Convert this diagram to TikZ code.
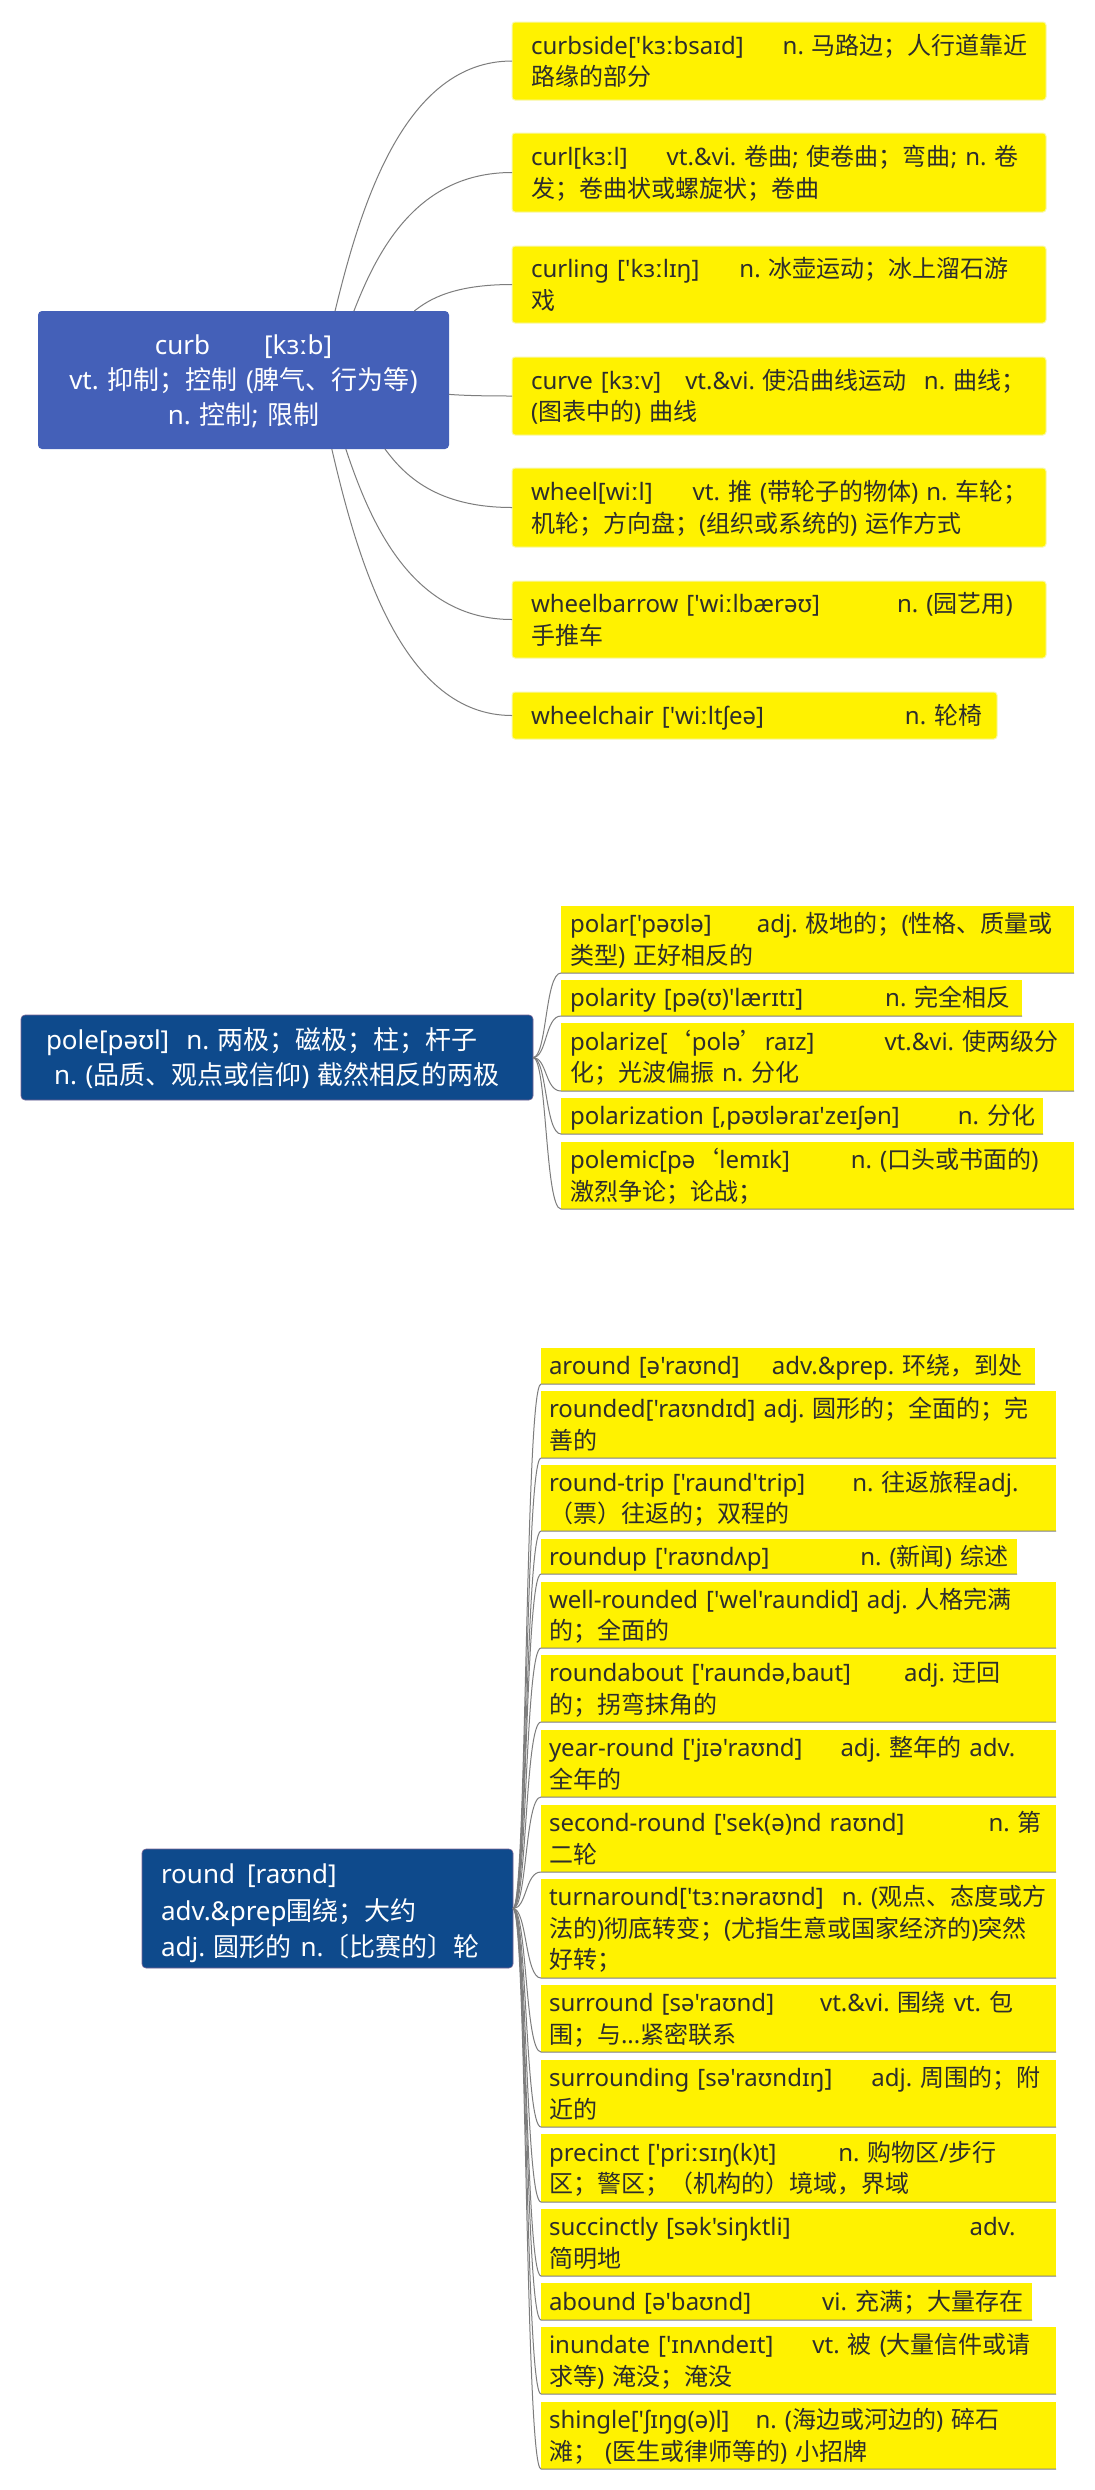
\documentclass[tikz,border=0pt]{standalone}
\usepackage{fontspec}
\setmainfont{Noto Sans}
\newfontfamily\latf{Noto Sans}[Ligatures=TeXOff]
\newfontfamily\cjkf{Noto Sans CJK SC}
\usetikzlibrary{calc}
\frenchspacing

% automatic switch to the CJK font for CJK characters
\XeTeXinterchartokenstate=1
\newcount\cjkcnt
\newcommand\setcjkrange[2]{\cjkcnt=#1\relax
  \loop\XeTeXcharclass\cjkcnt=11\relax\advance\cjkcnt by 1\relax\ifnum\cjkcnt<#2\relax\repeat}
\setcjkrange{"4E00}{"A000}
\setcjkrange{"3000}{"3040}
\setcjkrange{"FF00}{"FFF0}
\setcjkrange{"2018}{"201A}
\XeTeXinterchartoks 0 11 = {\cjkf}
\XeTeXinterchartoks 4095 11 = {\cjkf}
\XeTeXinterchartoks 11 0 = {\latf}
\XeTeXinterchartoks 11 4095 = {\latf}

\definecolor{cA}{RGB}{68,96,184}
\definecolor{cB}{RGB}{14,74,140}
\definecolor{cBedge}{RGB}{120,100,150}
\definecolor{linegray}{RGB}{125,125,125}
\definecolor{txt}{RGB}{45,45,45}
\definecolor{ybord}{RGB}{248,248,170}

\newcommand\leaffont{\fontsize{24}{31.5}\selectfont\latf\frenchspacing}
\newcommand\rootfont{\fontsize{26}{35}\selectfont\latf\frenchspacing}
\newcommand\rootfontb{\fontsize{26}{36.5}\selectfont\latf\frenchspacing}
\newcommand\lst{\rule[-7pt]{0pt}{31.5pt}}
\newcommand\rst{\rule[-8pt]{0pt}{35pt}}
\newcommand\rstb{\rule[-8.5pt]{0pt}{36.5pt}}
\newcommand\gp[1]{\hspace{#1pt}}

\newcommand\mcurve[2]{\draw[conn] let \p1=(#1), \p2=(#2.west) in
  (\p1) .. controls ({\x1+0.15*(\x2-\x1)},{\y1+0.44*(\y2-\y1)}) and ({\x1+0.4*(\x2-\x1)},\y2) .. (\p2);}
\newcommand\tcurve[2]{\draw[conn] let \p1=(#1.east), \p2=(#2.south west) in
  (\p1) .. controls ({\x1+14pt},\y1) and ({\x1+12pt},\y2) .. (\p2) -- (#2.south east);}

\begin{document}
\begin{tikzpicture}[x=1pt,y=-1pt,
  conn/.style={draw=linegray,line width=1pt},
  boxA/.style={fill=yellow,draw=ybord,line width=1pt,rounded corners=3pt,anchor=north west,inner sep=0pt,outer sep=0pt},
  boxB/.style={fill=yellow,anchor=north west,inner sep=0pt,outer sep=0pt},
  ltxt/.style={anchor=west,inner sep=0pt,outer sep=0pt,text width=600pt,align=left,font=\leaffont,text=txt,
    execute at begin node=\lst,execute at end node=\lst},
  rootA/.style={fill=cA,rounded corners=4pt,anchor=north west,inner sep=0pt,outer sep=0pt,align=center,
    font=\rootfont,text=white,execute at begin node=\rst,execute at end node=\rst},
  rootB/.style={rootA,fill=cB,draw=cBedge,line width=0.6pt},
  rtxt/.style={anchor=west,inner sep=0pt,outer sep=0pt,text width=500pt,align=left,font=\rootfontb,text=white,
    execute at begin node=\rstb,execute at end node=\rstb}
]
\fill[white] (0,0) rectangle (1095,2490);
\useasboundingbox (0,0) rectangle (1095,2490);

% ---------------- curb ----------------
\node[rootA,text width=411pt,minimum height=138pt] (curb) at (38,311)
  {curb\gp{54}[kɜːb]\\vt. 抑制；控制 (脾气、行为等)\\n. 控制; 限制};

\node[boxA,minimum width=534pt,minimum height=78pt] (cs) at (512,22) {};
\node[ltxt] (cst) at ([xshift=19pt]cs.west) {curbside['kɜːbsaɪd]\gp{39}n. 马路边；人行道靠近\\路缘的部分};
\node[boxA,minimum width=534pt,minimum height=79pt] (cl) at (512,133) {};
\node[ltxt] (clt) at ([xshift=19pt]cl.west) {curl[kɜːl]\gp{39}vt.\&vi. 卷曲; 使卷曲；弯曲; n. 卷\\发；卷曲状或螺旋状；卷曲};
\node[boxA,minimum width=534pt,minimum height=77pt] (cg) at (512,246) {};
\node[ltxt] (cgt) at ([xshift=19pt]cg.west) {curling ['kɜːlɪŋ]\gp{40}n. 冰壶运动；冰上溜石游\\戏};
\node[boxA,minimum width=534pt,minimum height=78pt] (cv) at (512,357) {};
\node[ltxt] (cvt) at ([xshift=19pt]cv.west) {curve [kɜːv]\gp{24}vt.\&vi. 使沿曲线运动\gp{17}n. 曲线；\\(图表中的) 曲线};
\node[boxA,minimum width=534pt,minimum height=79pt] (wh) at (512,468) {};
\node[ltxt] (wht) at ([xshift=19pt]wh.west) {wheel[wiːl]\gp{40}vt. 推 (带轮子的物体) n. 车轮；\\机轮；方向盘；(组织或系统的) 运作方式};
\node[boxA,minimum width=534pt,minimum height=77pt] (wb) at (512,581) {};
\node[ltxt] (wbt) at ([xshift=19pt]wb.west) {wheelbarrow ['wiːlbærəʊ]\gp{77}n. (园艺用)\\手推车};
\node[boxA,minimum width=485pt,minimum height=47pt] (wc) at (512,692) {};
\node[ltxt] (wct) at ([xshift=19pt]wc.west) {wheelchair ['wiːltʃeə]\gp{141}n. 轮椅};

\mcurve{curb.37}{cs}
\mcurve{curb.32}{cl}
\mcurve{curb.22}{cg}
\mcurve{curb.-4}{cv}
\mcurve{curb.-26}{wh}
\mcurve{curb.-34}{wb}
\mcurve{curb.-38}{wc}

% ---------------- pole ----------------
\node[rootB,text width=512pt,minimum height=85pt] (pole) at (21,1015)
  {pole[pəʊl]\gp{17}n. 两极；磁极；柱；杆子\rule{30pt}{0pt}\\n. (品质、观点或信仰) 截然相反的两极};

\node[boxB,minimum width=513pt,minimum height=67pt] (p1) at (561,906) {};
\node[ltxt] (p1t) at ([xshift=9pt]p1.west) {polar['pəʊlə]\gp{45}adj. 极地的；(性格、质量或\\类型) 正好相反的};
\node[boxB,minimum width=461pt,minimum height=36pt] (p2) at (561,980) {};
\node[ltxt] (p2t) at ([xshift=9pt]p2.west) {polarity [pə(ʊ)'lærɪtɪ]\gp{82}n. 完全相反};
\node[boxB,minimum width=513pt,minimum height=68pt] (p3) at (561,1023) {};
\node[ltxt] (p3t) at ([xshift=9pt]p3.west) {polarize[‘polə’raɪz]\gp{70}vt.\&vi. 使两级分\\化；光波偏振 n. 分化};
\node[boxB,minimum width=482pt,minimum height=36pt] (p4) at (561,1098) {};
\node[ltxt] (p4t) at ([xshift=9pt]p4.west) {polarization [,pəʊləraɪ'zeɪʃən]\gp{58}n. 分化};
\node[boxB,minimum width=513pt,minimum height=67pt] (p5) at (561,1142) {};
\node[ltxt] (p5t) at ([xshift=9pt]p5.west) {polemic[pə‘lemɪk]\gp{61}n. (口头或书面的)\\激烈争论；论战；};

\tcurve{pole}{p1}
\tcurve{pole}{p2}
\tcurve{pole}{p3}
\tcurve{pole}{p4}
\tcurve{pole}{p5}

% ---------------- round ----------------
\node[rootB,minimum width=371pt,minimum height=119pt] (round) at (142,1849) {};
\node[rtxt] (roundt) at ([xshift=19pt,yshift=-2pt]round.west) {round\gp{12}[raʊnd]\\adv.\&prep围绕；大约\\adj. 圆形的 n.〔比赛的〕轮};

\node[boxB,minimum width=494pt,minimum height=36pt] (r1) at (541,1348) {};
\node[ltxt] (r1t) at ([xshift=8pt]r1.west) {around [ə'raʊnd]\gp{32}adv.\&prep. 环绕，到处};
\node[boxB,minimum width=515pt,minimum height=67pt] (r2) at (541,1391) {};
\node[ltxt] (r2t) at ([xshift=8pt]r2.west) {rounded['raʊndɪd] adj. 圆形的；全面的；完\\善的};
\node[boxB,minimum width=515pt,minimum height=66pt] (r3) at (541,1465) {};
\node[ltxt] (r3t) at ([xshift=8pt]r3.west) {round-trip ['raund'trip]\gp{47}n. 往返旅程adj.\\（票）往返的；双程的};
\node[boxB,minimum width=476pt,minimum height=35pt] (r4) at (541,1539) {};
\node[ltxt] (r4t) at ([xshift=8pt]r4.west) {roundup ['raʊndʌp]\gp{91}n. (新闻) 综述};
\node[boxB,minimum width=515pt,minimum height=66pt] (r5) at (541,1582) {};
\node[ltxt] (r5t) at ([xshift=8pt]r5.west) {well-rounded ['wel'raundid] adj. 人格完满\\的；全面的};
\node[boxB,minimum width=515pt,minimum height=67pt] (r6) at (541,1655) {};
\node[ltxt] (r6t) at ([xshift=8pt]r6.west) {roundabout ['raundə,baut]\gp{53}adj. 迂回\\的；拐弯抹角的};
\node[boxB,minimum width=515pt,minimum height=67pt] (r7) at (541,1730) {};
\node[ltxt] (r7t) at ([xshift=8pt]r7.west) {year-round ['jɪə'raʊnd]\gp{38}adj. 整年的 adv.\\全年的};
\node[boxB,minimum width=515pt,minimum height=67pt] (r8) at (541,1805) {};
\node[ltxt] (r8t) at ([xshift=8pt]r8.west) {second-round ['sek(ə)nd raʊnd]\gp{84}n. 第\\二轮};
\node[boxB,minimum width=515pt,minimum height=99pt] (r9) at (541,1879) {};
\node[ltxt] (r9t) at ([xshift=8pt]r9.west) {turnaround['tɜːnəraʊnd]\gp{18}n. (观点、态度或方\\法的)彻底转变；(尤指生意或国家经济的)突然\\好转；};
\node[boxB,minimum width=515pt,minimum height=67pt] (r10) at (541,1985) {};
\node[ltxt] (r10t) at ([xshift=8pt]r10.west) {surround [sə'raʊnd]\gp{46}vt.\&vi. 围绕 vt. 包\\围；与...紧密联系};
\node[boxB,minimum width=515pt,minimum height=67pt] (r11) at (541,2060) {};
\node[ltxt] (r11t) at ([xshift=8pt]r11.west) {surrounding [sə'raʊndɪŋ]\gp{39}adj. 周围的；附\\近的};
\node[boxB,minimum width=515pt,minimum height=68pt] (r12) at (541,2134) {};
\node[ltxt] (r12t) at ([xshift=8pt]r12.west) {precinct ['priːsɪŋ(k)t]\gp{62}n. 购物区/步行\\区；警区；（机构的）境域，界域};
\node[boxB,minimum width=515pt,minimum height=67pt] (r13) at (541,2209) {};
\node[ltxt] (r13t) at ([xshift=8pt]r13.west) {succinctly [sək'siŋktli]\gp{179}adv.\\简明地};
\node[boxB,minimum width=491pt,minimum height=37pt] (r14) at (541,2283) {};
\node[ltxt] (r14t) at ([xshift=8pt]r14.west) {abound [ə'baʊnd]\gp{71}vi. 充满；大量存在};
\node[boxB,minimum width=515pt,minimum height=67pt] (r15) at (541,2327) {};
\node[ltxt] (r15t) at ([xshift=8pt]r15.west) {inundate ['ɪnʌndeɪt]\gp{39}vt. 被 (大量信件或请\\求等) 淹没；淹没};
\node[boxB,minimum width=515pt,minimum height=67pt] (r16) at (541,2402) {};
\node[ltxt] (r16t) at ([xshift=8pt]r16.west) {shingle['ʃɪŋg(ə)l]\gp{26}n. (海边或河边的) 碎石\\滩； (医生或律师等的) 小招牌};

\foreach \k in {1,...,16} {\tcurve{round}{r\k}}
\end{tikzpicture}
\end{document}
